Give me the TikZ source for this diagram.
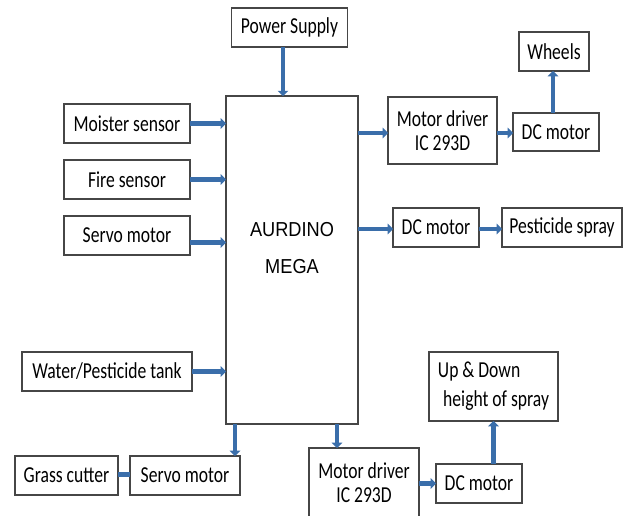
\documentclass[tikz,border=0pt]{standalone}
\usepackage{fontspec}
\setmainfont{Carlito}[FakeStretch=0.77]
\newfontfamily\megafont{Liberation Sans}[FakeStretch=0.9]
\definecolor{boxgray}{RGB}{70,70,70}
\definecolor{arrblue}{RGB}{58,110,170}
\usetikzlibrary{arrows.meta,positioning,calc}
\tikzset{
  blk/.style={draw=boxgray, line width=0.7pt, inner sep=0pt, outer sep=0pt, align=center,
    font=\fontsize{13}{13.5}\selectfont},
  arr/.style={-{Triangle[length=3pt,width=6pt]}, line width=2.6pt, arrblue},
  bar/.style={line width=2.6pt, arrblue}
}
\begin{document}
\begin{tikzpicture}[x=0.02cm, y=-0.02cm]
  \useasboundingbox[fill=white] (0,0) rectangle (626,516);
  % controller
  \node[blk, minimum width=2.64cm, minimum height=6.56cm] (mega) at (292,260) {};
  \node[font=\megafont\fontsize{11.5}{21.5}\selectfont, align=center] (megatext) at (292,248) {AURDINO\\MEGA};
  \node[blk, minimum width=2.32cm, minimum height=0.78cm] (power) at (289.5,27.5) {Power Supply};
  % inputs
  \node[blk, minimum width=2.52cm, minimum height=0.78cm] (moist) at (127,123.5) {Moister sensor};
  \node[blk, minimum width=2.52cm, minimum height=0.78cm] (fire) at (127,179.5) {Fire sensor};
  \node[blk, minimum width=2.52cm, minimum height=0.78cm] (servoL) at (127,235.5) {Servo motor};
  \node[blk, minimum width=3.40cm, minimum height=0.78cm] (tank) at (107,371.5) {Water/Pesticide tank};
  % outputs right
  \node[blk, minimum width=2.18cm, minimum height=1.34cm] (drvT) at (442.5,130.5) {Motor driver\\IC 293D};
  \node[blk, minimum width=1.72cm, minimum height=0.76cm] (dcT) at (556,132) {DC motor};
  \node[blk, minimum width=1.40cm, minimum height=0.78cm] (wheels) at (554,51.5) {Wheels};
  \node[blk, minimum width=1.72cm, minimum height=0.78cm] (dcM) at (436,227.5) {DC motor};
  \node[blk, minimum width=2.40cm, minimum height=0.78cm] (spray) at (562,227.5) {Pesticide spray};
  % outputs bottom
  \node[blk, minimum width=2.06cm, minimum height=0.78cm] (grass) at (66.5,475.5) {Grass cutter};
  \node[blk, minimum width=2.20cm, minimum height=0.78cm] (servoB) at (185,475.5) {Servo motor};
  \node[blk, minimum width=2.20cm, minimum height=1.38cm] (drvB) at (364,482.5) {Motor driver\\IC 293D};
  \node[blk, minimum width=1.72cm, minimum height=0.78cm] (dcB) at (479,483.5) {DC motor};
  \node[blk, minimum width=2.58cm, minimum height=1.38cm, align=left] (updown) at (493.5,386.5) {Up \& Down\\[3pt]\hspace{3pt}height of spray};
  % connectors
  \draw[arr] ([xshift=-0.13cm]power.south) -- ([xshift=-0.13cm]power.south |- mega.north);
  \draw[arr] (moist.east) -- (moist.east -| mega.west);
  \draw[arr] (fire.east) -- (fire.east -| mega.west);
  \draw[arr] ([yshift=-0.14cm]servoL.east) -- ([yshift=-0.14cm]servoL.east -| mega.west);
  \draw[arr] (tank.east) -- (tank.east -| mega.west);
  \draw[arr] ([yshift=-0.05cm]drvT.west -| mega.east) -- ([yshift=-0.05cm]drvT.west);
  \draw[arr] ([yshift=-0.05cm]drvT.east) -- ([yshift=-0.05cm]drvT.east -| dcT.west);
  \draw[arr] ([xshift=-0.06cm]dcT.north) -- ([xshift=-0.06cm]dcT.north |- wheels.south);
  \draw[arr] ([yshift=-0.03cm]dcM.west -| mega.east) -- ([yshift=-0.03cm]dcM.west);
  \draw[arr] ([yshift=-0.03cm]dcM.east) -- ([yshift=-0.03cm]dcM.east -| spray.west);
  \draw[arr] ([xshift=-0.1cm]servoB.north east |- mega.south) -- ([xshift=-0.1cm]servoB.north east);
  \draw[arr] ([xshift=0.56cm]drvB.north west |- mega.south) -- ([xshift=0.56cm]drvB.north west);
  \draw[arr] (drvB.east |- dcB.west) -- (dcB.west);
  \draw[arr] (updown.south |- dcB.north) -- (updown.south);
  \draw[bar] ([yshift=0.02cm]grass.east) -- ([yshift=0.02cm]servoB.west);
\end{tikzpicture}
\end{document}
